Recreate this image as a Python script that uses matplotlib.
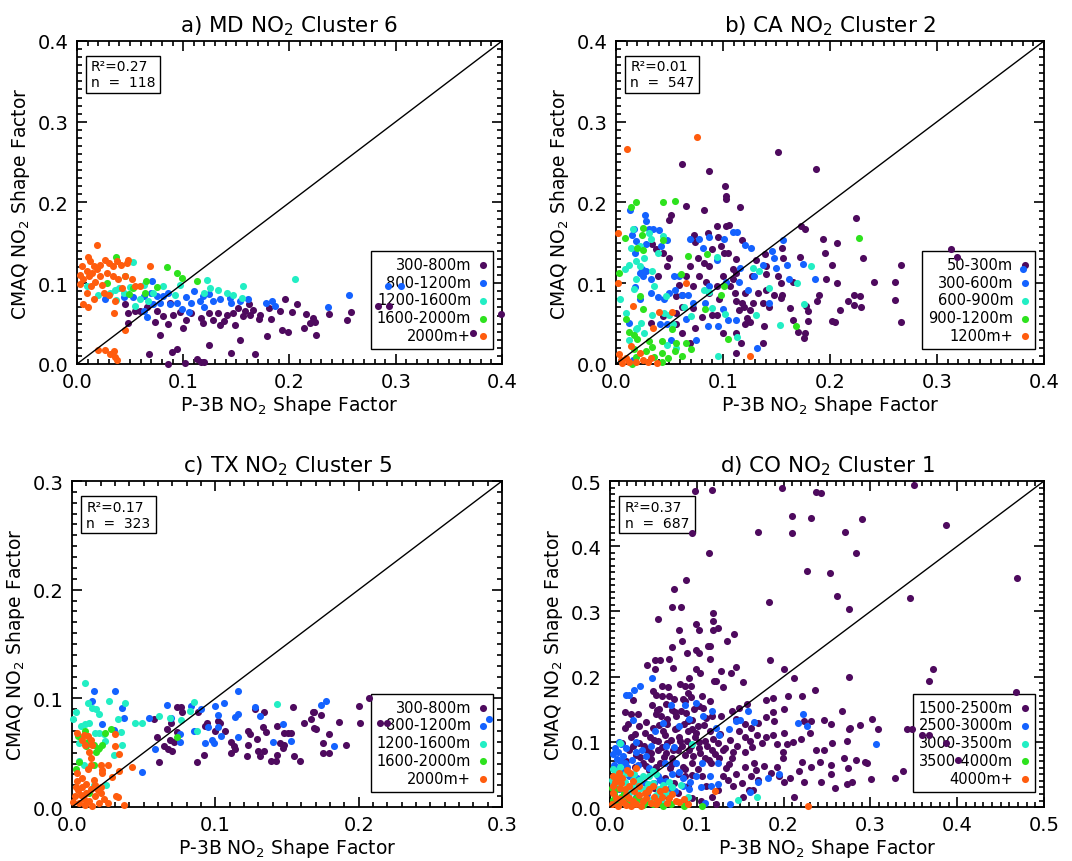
import numpy as np
import matplotlib
matplotlib.use("Agg")
import matplotlib.pyplot as plt
from matplotlib.patches import Rectangle
from matplotlib.ticker import MultipleLocator, FormatStrFormatter

plt.rcParams['font.family'] = ['DejaVu Sans']

colors = ['#4e0a5e', '#1462ff', '#22eec4', '#2ee21e', '#ff5c0e']

# ---------------- panel a: MD cluster 6 ----------------
md_labels = ['300-800m', '800-1200m', '1200-1600m', '1600-2000m', '2000m+']
md_g1_x = [0.045, 0.048, 0.048, 0.055, 0.059, 0.066, 0.073, 0.075, 0.078, 0.081, 0.086, 0.088, 0.090, 0.094, 0.089,
           0.097, 0.100, 0.103, 0.107, 0.113, 0.117, 0.119, 0.120, 0.124, 0.124, 0.128, 0.133, 0.135, 0.138, 0.141,
           0.145, 0.147, 0.149, 0.152, 0.153, 0.156, 0.158, 0.162, 0.163, 0.166, 0.168, 0.171, 0.172, 0.179, 0.181,
           0.183, 0.191, 0.193, 0.196, 0.199, 0.202, 0.207, 0.214, 0.216, 0.219, 0.222, 0.224, 0.225, 0.237, 0.254,
           0.258, 0.283, 0.294, 0.373, 0.068, 0.086, 0.102, 0.117, 0.399]
md_g1_y = [0.074, 0.063, 0.051, 0.065, 0.065, 0.071, 0.052, 0.065, 0.036, 0.059, 0.049, 0.075, 0.061, 0.019, 0.015,
           0.064, 0.045, 0.054, 0.063, 0.006, 0.057, 0.051, 0.003, 0.024, 0.063, 0.055, 0.063, 0.048, 0.053, 0.061,
           0.014, 0.063, 0.048, 0.069, 0.030, 0.059, 0.065, 0.074, 0.061, 0.067, 0.012, 0.056, 0.061, 0.035, 0.069,
           0.056, 0.066, 0.042, 0.080, 0.040, 0.064, 0.074, 0.045, 0.062, 0.051, 0.057, 0.052, 0.036, 0.062, 0.055,
           0.064, 0.072, 0.072, 0.038, 0.012, 0.000, 0.001, 0.002, 0.062]
md_g2_x = [0.071, 0.026, 0.044, 0.053, 0.063, 0.070, 0.075, 0.081, 0.086, 0.094, 0.078, 0.072, 0.088, 0.103, 0.107,
           0.110, 0.116, 0.119, 0.120, 0.124, 0.128, 0.135, 0.144, 0.145, 0.153, 0.161, 0.178, 0.184, 0.186, 0.236,
           0.256, 0.293, 0.063, 0.066, 0.099, 0.105, 0.305]
md_g2_y = [0.103, 0.081, 0.083, 0.083, 0.084, 0.088, 0.084, 0.084, 0.088, 0.076, 0.076, 0.074, 0.074, 0.083, 0.076,
           0.090, 0.078, 0.084, 0.071, 0.087, 0.078, 0.081, 0.082, 0.075, 0.078, 0.081, 0.076, 0.078, 0.072, 0.071,
           0.085, 0.096, 0.065, 0.058, 0.068, 0.064, 0.097]
md_g3_x = [0.053, 0.063, 0.072, 0.081, 0.097, 0.092, 0.122, 0.125, 0.120, 0.133, 0.141, 0.147, 0.155, 0.156, 0.205,
           0.020, 0.031, 0.036, 0.040, 0.037, 0.055, 0.059, 0.067, 0.009, 0.044, 0.050]
md_g3_y = [0.126, 0.098, 0.088, 0.097, 0.098, 0.086, 0.104, 0.094, 0.088, 0.092, 0.088, 0.086, 0.082, 0.097, 0.105,
           0.086, 0.088, 0.092, 0.094, 0.079, 0.072, 0.080, 0.078, 0.097, 0.088, 0.095]
md_g4_x = [0.037, 0.085, 0.094, 0.099, 0.113, 0.065, 0.075, 0.049, 0.064, 0.045, 0.053, 0.028]
md_g4_y = [0.133, 0.120, 0.113, 0.107, 0.103, 0.103, 0.095, 0.087, 0.088, 0.109, 0.094, 0.100]
md_g5_x = [0.019, 0.005, 0.010, 0.0125, 0.016, 0.009, 0.003, 0.006, 0.011, 0.014, 0.019, 0.022, 0.026, 0.030, 0.034,
           0.038, 0.041, 0.047, 0.048, 0.022, 0.028, 0.034, 0.039, 0.045, 0.052, 0.055, 0.059, 0.069, 0.009, 0.016,
           0.025, 0.030, 0.036, 0.006, 0.010, 0.035, 0.045, 0.020, 0.026, 0.031, 0.035, 0.036, 0.038, 0.013, 0.017,
           0.003, 0.024, 0.042]
md_g5_y = [0.147, 0.121, 0.133, 0.127, 0.121, 0.115, 0.099, 0.105, 0.109, 0.113, 0.117, 0.123, 0.129, 0.125, 0.121,
           0.127, 0.123, 0.125, 0.129, 0.109, 0.113, 0.109, 0.105, 0.109, 0.105, 0.096, 0.096, 0.121, 0.088, 0.080,
           0.088, 0.086, 0.078, 0.074, 0.071, 0.063, 0.042, 0.017, 0.017, 0.012, 0.016, 0.009, 0.005, 0.097, 0.102,
           0.110, 0.098, 0.094]

# ---------------- panel b: CA cluster 2 ----------------
ca_labels = ['50-300m', '300-600m', '600-900m', '900-1200m', '1200m+']
ca_g1_x = [0.062, 0.065, 0.087, 0.082, 0.102, 0.103, 0.103, 0.116, 0.151, 0.187, 0.224, 0.051, 0.050, 0.073, 0.086,
           0.094, 0.103, 0.106, 0.118, 0.173, 0.177, 0.193, 0.195, 0.207, 0.231, 0.202, 0.313, 0.319, 0.266, 0.241,
           0.207, 0.196, 0.261, 0.261, 0.266, 0.222, 0.228, 0.217, 0.222, 0.229, 0.209, 0.202, 0.205, 0.188, 0.190,
           0.178, 0.179, 0.179, 0.177, 0.176, 0.170, 0.165, 0.163, 0.172, 0.156, 0.155, 0.151, 0.154, 0.148, 0.155,
           0.143, 0.140, 0.140, 0.139, 0.131, 0.127, 0.133, 0.137, 0.138, 0.137, 0.128, 0.125, 0.121, 0.118, 0.115,
           0.112, 0.111, 0.107, 0.109, 0.112, 0.105, 0.101, 0.098, 0.095, 0.090, 0.087, 0.082, 0.077, 0.074, 0.069,
           0.065, 0.072, 0.059, 0.062, 0.056, 0.050, 0.048, 0.044, 0.037, 0.034, 0.039, 0.033, 0.044, 0.056, 0.062,
           0.069, 0.074, 0.087, 0.090, 0.094, 0.096, 0.100, 0.112, 0.117, 0.112, 0.120, 0.122, 0.125, 0.121, 0.165,
           0.154, 0.140, 0.112, 0.109, 0.100, 0.094, 0.084, 0.078, 0.062, 0.072, 0.080, 0.056]
ca_g1_y = [0.248, 0.196, 0.239, 0.191, 0.221, 0.208, 0.204, 0.195, 0.263, 0.241, 0.181, 0.185, 0.178, 0.160, 0.162,
           0.171, 0.171, 0.172, 0.154, 0.171, 0.167, 0.155, 0.138, 0.150, 0.131, 0.122, 0.142, 0.133, 0.122, 0.102,
           0.100, 0.105, 0.102, 0.079, 0.052, 0.085, 0.084, 0.078, 0.073, 0.071, 0.067, 0.053, 0.052, 0.078, 0.086,
           0.072, 0.065, 0.053, 0.038, 0.032, 0.040, 0.055, 0.069, 0.133, 0.131, 0.144, 0.109, 0.100, 0.086, 0.085,
           0.071, 0.111, 0.121, 0.136, 0.129, 0.109, 0.088, 0.076, 0.047, 0.026, 0.076, 0.067, 0.088, 0.076, 0.067,
           0.078, 0.088, 0.097, 0.117, 0.130, 0.138, 0.138, 0.146, 0.157, 0.143, 0.121, 0.125, 0.131, 0.151, 0.121,
           0.109, 0.097, 0.098, 0.085, 0.084, 0.131, 0.121, 0.138, 0.143, 0.148, 0.109, 0.051, 0.059, 0.049, 0.038,
           0.026, 0.045, 0.088, 0.061, 0.061, 0.081, 0.038, 0.038, 0.026, 0.014, 0.071, 0.057, 0.052, 0.049, 0.101,
           0.082, 0.092, 0.113, 0.105, 0.109, 0.096, 0.102, 0.109, 0.071, 0.069, 0.058, 0.063]
ca_g2_x = [0.013, 0.027, 0.028, 0.031, 0.035, 0.040, 0.017, 0.015, 0.019, 0.018, 0.028, 0.048, 0.042, 0.024, 0.022,
           0.025, 0.028, 0.033, 0.018, 0.022, 0.033, 0.039, 0.045, 0.050, 0.054, 0.059, 0.055, 0.062, 0.069, 0.078,
           0.087, 0.101, 0.109, 0.113, 0.121, 0.126, 0.116, 0.081, 0.094, 0.103, 0.067, 0.083, 0.072, 0.065, 0.048,
           0.041, 0.051, 0.075, 0.086, 0.095, 0.105, 0.112, 0.115, 0.123, 0.132, 0.129, 0.137, 0.146, 0.148, 0.150,
           0.156, 0.160, 0.162, 0.175, 0.186, 0.380, 0.143, 0.100, 0.087, 0.012, 0.016]
ca_g2_y = [0.191, 0.185, 0.177, 0.167, 0.167, 0.166, 0.167, 0.160, 0.152, 0.138, 0.148, 0.154, 0.146, 0.118, 0.113,
           0.109, 0.115, 0.105, 0.095, 0.081, 0.088, 0.083, 0.081, 0.088, 0.109, 0.109, 0.092, 0.086, 0.155, 0.155,
           0.157, 0.155, 0.163, 0.163, 0.147, 0.144, 0.119, 0.144, 0.129, 0.102, 0.086, 0.075, 0.076, 0.056, 0.049,
           0.049, 0.030, 0.030, 0.047, 0.047, 0.054, 0.054, 0.102, 0.092, 0.020, 0.109, 0.123, 0.140, 0.131, 0.119,
           0.153, 0.123, 0.105, 0.124, 0.105, 0.118, 0.076, 0.068, 0.096, 0.051, 0.005]
ca_g3_x = [0.004, 0.008, 0.012, 0.016, 0.014, 0.019, 0.022, 0.026, 0.022, 0.031, 0.033, 0.034, 0.039, 0.044, 0.036,
           0.019, 0.009, 0.017, 0.023, 0.020, 0.026, 0.034, 0.045, 0.047, 0.050, 0.053, 0.056, 0.064, 0.070, 0.082,
           0.087, 0.094, 0.090, 0.102, 0.095, 0.128, 0.134, 0.131, 0.143, 0.153, 0.169, 0.182, 0.176, 0.113, 0.048,
           0.012, 0.019]
ca_g3_y = [0.080, 0.118, 0.123, 0.167, 0.144, 0.127, 0.146, 0.131, 0.121, 0.162, 0.155, 0.115, 0.138, 0.159, 0.097,
           0.105, 0.063, 0.093, 0.051, 0.045, 0.038, 0.061, 0.063, 0.084, 0.061, 0.049, 0.020, 0.071, 0.059, 0.092,
           0.089, 0.133, 0.069, 0.062, 0.010, 0.119, 0.115, 0.061, 0.094, 0.048, 0.100, 0.121, 0.074, 0.034, 0.024,
           0.030, 0.043]
ca_g4_x = [0.014, 0.019, 0.044, 0.055, 0.008, 0.003, 0.025, 0.024, 0.020, 0.025, 0.044, 0.067, 0.061, 0.009, 0.022,
           0.025, 0.012, 0.017, 0.020, 0.031, 0.043, 0.052, 0.056, 0.065, 0.034, 0.028, 0.017, 0.043, 0.055, 0.062,
           0.070, 0.019, 0.036, 0.049, 0.043, 0.085, 0.098, 0.101, 0.083, 0.105, 0.168, 0.227, 0.015]
ca_g4_y = [0.195, 0.200, 0.201, 0.202, 0.156, 0.113, 0.169, 0.160, 0.144, 0.141, 0.154, 0.134, 0.112, 0.056, 0.084,
           0.068, 0.040, 0.036, 0.031, 0.028, 0.029, 0.043, 0.026, 0.026, 0.021, 0.016, 0.018, 0.014, 0.016, 0.010,
           0.019, 0.009, 0.009, 0.008, 0.002, 0.136, 0.085, 0.096, 0.068, 0.031, 0.047, 0.156, 0.000]
ca_g5_x = [0.002, 0.010, 0.076, 0.002, 0.016, 0.040, 0.052, 0.065, 0.035, 0.125, 0.014, 0.003, 0.005, 0.009, 0.012,
           0.019, 0.025, 0.030, 0.033, 0.038, 0.022, 0.006]
ca_g5_y = [0.162, 0.266, 0.281, 0.100, 0.072, 0.064, 0.064, 0.100, 0.045, 0.010, 0.022, 0.012, 0.005, 0.007, 0.002,
           0.003, 0.005, 0.002, 0.007, 0.001, 0.014, 0.001]

# ---------------- panel c: TX cluster 5 ----------------
tx_labels = ['300-800m', '800-1200m', '1200-1600m', '1600-2000m', '2000m+']
tx_g1_x = [0.057, 0.059, 0.061, 0.064, 0.066, 0.067, 0.068, 0.070, 0.069, 0.071, 0.073, 0.073, 0.076, 0.077, 0.087,
           0.088, 0.092, 0.093, 0.094, 0.100, 0.102, 0.103, 0.107, 0.111, 0.111, 0.113, 0.114, 0.122, 0.123, 0.123,
           0.124, 0.128, 0.129, 0.130, 0.131, 0.133, 0.134, 0.134, 0.135, 0.139, 0.142, 0.143, 0.143, 0.145, 0.147,
           0.148, 0.148, 0.151, 0.153, 0.154, 0.155, 0.159, 0.162, 0.167, 0.168, 0.169, 0.169, 0.170, 0.174, 0.175,
           0.175, 0.179, 0.179, 0.186, 0.191, 0.200, 0.201, 0.207, 0.215, 0.220]
tx_g1_y = [0.081, 0.064, 0.041, 0.056, 0.072, 0.053, 0.062, 0.052, 0.077, 0.060, 0.092, 0.069, 0.092, 0.087, 0.041,
           0.087, 0.048, 0.075, 0.077, 0.070, 0.079, 0.077, 0.070, 0.060, 0.050, 0.056, 0.053, 0.047, 0.070, 0.057,
           0.067, 0.090, 0.063, 0.052, 0.047, 0.074, 0.087, 0.052, 0.069, 0.042, 0.042, 0.075, 0.048, 0.059, 0.054,
           0.068, 0.057, 0.068, 0.068, 0.092, 0.047, 0.042, 0.077, 0.081, 0.087, 0.087, 0.073, 0.072, 0.085, 0.059,
           0.050, 0.050, 0.067, 0.078, 0.057, 0.093, 0.077, 0.100, 0.077, 0.077]
tx_g2_x = [0.015, 0.014, 0.030, 0.035, 0.036, 0.021, 0.029, 0.049, 0.054, 0.058, 0.066, 0.069, 0.075, 0.075, 0.083,
           0.090, 0.085, 0.093, 0.095, 0.098, 0.099, 0.100, 0.102, 0.102, 0.104, 0.106, 0.114, 0.116, 0.116, 0.116,
           0.128, 0.131, 0.140, 0.147, 0.153, 0.174, 0.177, 0.183, 0.291]
tx_g2_y = [0.107, 0.098, 0.107, 0.091, 0.082, 0.076, 0.071, 0.032, 0.082, 0.053, 0.094, 0.082, 0.060, 0.067, 0.093,
           0.090, 0.070, 0.059, 0.074, 0.062, 0.059, 0.093, 0.085, 0.074, 0.065, 0.096, 0.083, 0.086, 0.107, 0.064,
           0.092, 0.084, 0.060, 0.076, 0.061, 0.094, 0.098, 0.056, 0.081]
tx_g3_x = [0.001, 0.003, 0.009, 0.011, 0.014, 0.017, 0.019, 0.026, 0.006, 0.009, 0.012, 0.016, 0.019, 0.022, 0.023,
           0.005, 0.005, 0.008, 0.032, 0.034, 0.035, 0.037, 0.029, 0.044, 0.049, 0.061, 0.068, 0.076, 0.085, 0.087,
           0.082, 0.143, 0.024, 0.015]
tx_g3_y = [0.081, 0.087, 0.114, 0.096, 0.091, 0.090, 0.086, 0.098, 0.075, 0.076, 0.077, 0.068, 0.068, 0.067, 0.061,
           0.059, 0.042, 0.039, 0.081, 0.069, 0.057, 0.096, 0.048, 0.077, 0.077, 0.084, 0.082, 0.080, 0.097, 0.070,
           0.088, 0.095, 0.020, 0.020]
tx_g4_x = [0.003, 0.005, 0.004, 0.009, 0.011, 0.010, 0.015, 0.017, 0.018, 0.019, 0.021, 0.023, 0.027, 0.015, 0.073,
           0.012]
tx_g4_y = [0.035, 0.041, 0.065, 0.070, 0.060, 0.056, 0.057, 0.051, 0.053, 0.054, 0.057, 0.068, 0.072, 0.039, 0.064,
           0.013]
tx_g5_x = [0.0035, 0.008, 0.011, 0.007, 0.013, 0.009, 0.014, 0.012, 0.013, 0.013, 0.020, 0.011, 0.007, 0.0035, 0.003,
           0.004, 0.010, 0.013, 0.016, 0.018, 0.020, 0.021, 0.021, 0.025, 0.030, 0.030, 0.033, 0.033, 0.028, 0.042,
           0.022, 0.025, 0.031, 0.032, 0.036, 0.006, 0.002, 0.001, 0.005, 0.008, 0.009, 0.012, 0.014, 0.016, 0.019,
           0.020, 0.007, 0.015, 0.010, 0.0035]
tx_g5_y = [0.068, 0.066, 0.065, 0.062, 0.062, 0.057, 0.057, 0.051, 0.045, 0.039, 0.039, 0.035, 0.027, 0.024, 0.018,
           0.016, 0.021, 0.017, 0.020, 0.016, 0.018, 0.034, 0.031, 0.039, 0.067, 0.056, 0.049, 0.033, 0.028, 0.037,
           0.007, 0.004, 0.010, 0.009, 0.002, 0.011, 0.010, 0.005, 0.004, 0.007, 0.002, 0.006, 0.001, 0.010, 0.004,
           0.013, 0.018, 0.025, 0.013, 0.031]

# ---------------- panel d: CO cluster 1 ----------------
co_labels = ['1500-2500m', '2500-3000m', '3000-3500m', '3500-4000m', '4000m+']
co_g1_x = [0.098, 0.118, 0.095, 0.198, 0.237, 0.243, 0.350, 0.210, 0.232, 0.290, 0.170, 0.210, 0.271, 0.387, 0.114,
           0.283, 0.227, 0.253, 0.469, 0.088, 0.074, 0.183, 0.262, 0.346, 0.275, 0.055, 0.071, 0.082, 0.119, 0.119,
           0.099, 0.103, 0.124, 0.119, 0.080, 0.143, 0.135, 0.083, 0.071, 0.113, 0.115, 0.099, 0.102, 0.089, 0.068,
           0.115, 0.184, 0.043, 0.052, 0.058, 0.052, 0.073, 0.099, 0.104, 0.128, 0.145, 0.139, 0.200, 0.372, 0.367,
           0.275, 0.468, 0.236, 0.212, 0.091, 0.122, 0.120, 0.130, 0.153, 0.060, 0.067, 0.081, 0.086, 0.093, 0.049,
           0.053, 0.060, 0.068, 0.074, 0.090, 0.093, 0.084, 0.106, 0.115, 0.102, 0.158, 0.149, 0.180, 0.188, 0.205,
           0.221, 0.200, 0.180, 0.188, 0.267, 0.017, 0.026, 0.032, 0.024, 0.048, 0.054, 0.053, 0.059, 0.072, 0.066,
           0.082, 0.076, 0.088, 0.097, 0.090, 0.095, 0.101, 0.111, 0.118, 0.128, 0.141, 0.145, 0.155, 0.163, 0.170,
           0.189, 0.223, 0.232, 0.246, 0.255, 0.275, 0.288, 0.302, 0.309, 0.342, 0.348, 0.360, 0.367, 0.387, 0.401,
           0.337, 0.328, 0.301, 0.279, 0.273, 0.259, 0.255, 0.243, 0.242, 0.232, 0.224, 0.218, 0.221, 0.212, 0.207,
           0.201, 0.195, 0.192, 0.186, 0.178, 0.171, 0.166, 0.168, 0.163, 0.160, 0.152, 0.155, 0.145, 0.142, 0.136,
           0.124, 0.118, 0.122, 0.111, 0.105, 0.095, 0.090, 0.274, 0.283, 0.294, 0.296, 0.270, 0.255, 0.246, 0.237,
           0.256, 0.273, 0.276, 0.230, 0.220, 0.211, 0.201, 0.204, 0.199, 0.199, 0.192, 0.188, 0.180, 0.175, 0.169,
           0.164, 0.161, 0.155, 0.155, 0.149, 0.146, 0.141, 0.138, 0.134, 0.130, 0.126, 0.124, 0.118, 0.116, 0.115,
           0.109, 0.109, 0.106, 0.103, 0.098, 0.095, 0.093, 0.090, 0.086, 0.084, 0.081, 0.078, 0.075, 0.072, 0.069,
           0.066, 0.065, 0.061, 0.058, 0.055, 0.051, 0.047, 0.045, 0.043, 0.040, 0.038, 0.034, 0.030, 0.029, 0.024,
           0.022, 0.018, 0.017, 0.014, 0.074, 0.063, 0.078, 0.066, 0.051, 0.087, 0.088, 0.153, 0.165, 0.130,
           0.021, 0.029, 0.033, 0.039, 0.042, 0.046, 0.049, 0.055, 0.057, 0.060, 0.063, 0.066, 0.070, 0.073, 0.077,
           0.079, 0.083, 0.085, 0.089, 0.091, 0.094, 0.096, 0.099, 0.102, 0.104, 0.108, 0.112, 0.114, 0.119, 0.121,
           0.127, 0.133, 0.137, 0.142, 0.047, 0.053, 0.062, 0.071, 0.078, 0.086, 0.094, 0.101, 0.035, 0.041, 0.027,
           0.056, 0.065, 0.075, 0.087, 0.107]
co_g1_y = [0.484, 0.486, 0.421, 0.490, 0.483, 0.482, 0.494, 0.446, 0.444, 0.442, 0.422, 0.420, 0.422, 0.432, 0.389,
           0.390, 0.362, 0.359, 0.352, 0.348, 0.334, 0.315, 0.324, 0.321, 0.303, 0.288, 0.307, 0.307, 0.298, 0.286,
           0.280, 0.272, 0.274, 0.271, 0.271, 0.266, 0.254, 0.254, 0.246, 0.247, 0.247, 0.241, 0.237, 0.236, 0.227,
           0.227, 0.226, 0.218, 0.225, 0.225, 0.211, 0.213, 0.212, 0.206, 0.209, 0.215, 0.205, 0.212, 0.211, 0.194,
           0.199, 0.176, 0.179, 0.198, 0.198, 0.194, 0.193, 0.184, 0.192, 0.186, 0.184, 0.189, 0.186, 0.185, 0.178,
           0.172, 0.171, 0.171, 0.165, 0.175, 0.168, 0.166, 0.171, 0.162, 0.155, 0.158, 0.152, 0.164, 0.167, 0.171,
           0.171, 0.150, 0.138, 0.145, 0.147, 0.145, 0.164, 0.142, 0.142, 0.156, 0.149, 0.142, 0.140, 0.149, 0.127,
           0.148, 0.139, 0.144, 0.150, 0.132, 0.134, 0.125, 0.137, 0.140, 0.139, 0.147, 0.135, 0.127, 0.121, 0.129,
           0.132, 0.132, 0.132, 0.133, 0.127, 0.120, 0.126, 0.135, 0.120, 0.120, 0.119, 0.110, 0.110, 0.098, 0.072,
           0.055, 0.045, 0.043, 0.039, 0.036, 0.029, 0.050, 0.038, 0.069, 0.061, 0.039, 0.055, 0.069, 0.015, 0.045,
           0.039, 0.047, 0.061, 0.052, 0.063, 0.042, 0.068, 0.057, 0.047, 0.026, 0.037, 0.062, 0.050, 0.032, 0.042,
           0.026, 0.016, 0.004, 0.032, 0.010, 0.014, 0.033, 0.060, 0.072, 0.069, 0.068, 0.075, 0.065, 0.087, 0.088,
           0.098, 0.102, 0.121, 0.114, 0.104, 0.099, 0.113, 0.097, 0.085, 0.075, 0.096, 0.110, 0.107, 0.098, 0.111,
           0.092, 0.101, 0.085, 0.108, 0.116, 0.094, 0.075, 0.103, 0.060, 0.087, 0.075, 0.098, 0.088, 0.068, 0.116,
           0.101, 0.075, 0.047, 0.091, 0.108, 0.068, 0.093, 0.116, 0.080, 0.062, 0.101, 0.088, 0.119, 0.075, 0.060,
           0.098, 0.083, 0.116, 0.068, 0.088, 0.103, 0.073, 0.057, 0.088, 0.114, 0.068, 0.098, 0.080, 0.061, 0.108,
           0.088, 0.070, 0.121, 0.098, 0.037, 0.045, 0.021, 0.017, 0.029, 0.047, 0.010, 0.015, 0.026, 0.047,
           0.128, 0.112, 0.125, 0.094, 0.131, 0.108, 0.121, 0.101, 0.126, 0.092, 0.110, 0.135, 0.103, 0.088, 0.121,
           0.108, 0.094, 0.128, 0.101, 0.087, 0.120, 0.078, 0.113, 0.099, 0.083, 0.126, 0.093, 0.072, 0.104, 0.081,
           0.112, 0.091, 0.066, 0.085, 0.083, 0.061, 0.077, 0.066, 0.051, 0.058, 0.049, 0.058, 0.076, 0.063, 0.094,
           0.151, 0.158, 0.146, 0.163, 0.152]
co_g2_x = [0.048, 0.035, 0.028, 0.018, 0.022, 0.027, 0.013, 0.009, 0.011, 0.007, 0.017, 0.030, 0.037, 0.030, 0.047,
           0.052, 0.061, 0.064, 0.070, 0.074, 0.079, 0.087, 0.091, 0.099, 0.107, 0.106, 0.118, 0.122, 0.126, 0.125,
           0.137, 0.145, 0.150, 0.159, 0.166, 0.195, 0.170, 0.182, 0.222, 0.217, 0.227, 0.307, 0.161, 0.138, 0.109,
           0.116, 0.115, 0.099, 0.084, 0.072, 0.058, 0.051, 0.040, 0.031, 0.022, 0.013, 0.007, 0.004, 0.063, 0.076,
           0.084, 0.091, 0.068, 0.057, 0.043, 0.030, 0.010,
           0.004, 0.006, 0.008, 0.010, 0.012, 0.005, 0.015, 0.020, 0.025, 0.019, 0.032, 0.041, 0.045, 0.055, 0.065,
           0.080, 0.092, 0.105, 0.125, 0.075]
co_g2_y = [0.198, 0.185, 0.180, 0.172, 0.172, 0.133, 0.096, 0.084, 0.070, 0.062, 0.068, 0.084, 0.087, 0.099, 0.093,
           0.116, 0.129, 0.093, 0.157, 0.092, 0.125, 0.156, 0.135, 0.159, 0.139, 0.068, 0.147, 0.121, 0.110, 0.068,
           0.119, 0.132, 0.134, 0.147, 0.130, 0.051, 0.038, 0.045, 0.143, 0.129, 0.124, 0.097, 0.023, 0.004, 0.006,
           0.032, 0.047, 0.047, 0.045, 0.051, 0.042, 0.037, 0.037, 0.045, 0.047, 0.055, 0.048, 0.037, 0.068, 0.068,
           0.033, 0.027, 0.027, 0.016, 0.020, 0.016, 0.027,
           0.082, 0.090, 0.074, 0.100, 0.058, 0.065, 0.079, 0.061, 0.072, 0.090, 0.064, 0.078, 0.060, 0.047, 0.040,
           0.054, 0.038, 0.030, 0.035, 0.025]
co_g3_x = [0.011, 0.095, 0.006, 0.003, 0.009, 0.007, 0.017, 0.026, 0.030, 0.038, 0.045, 0.049, 0.053, 0.049, 0.061,
           0.068, 0.082, 0.053, 0.045, 0.060, 0.148, 0.169, 0.034, 0.022,
           0.002, 0.004, 0.010, 0.014, 0.019, 0.024, 0.028, 0.033, 0.040, 0.044, 0.056, 0.065, 0.072, 0.090, 0.012]
co_g3_y = [0.098, 0.097, 0.055, 0.058, 0.052, 0.045, 0.039, 0.042, 0.037, 0.047, 0.047, 0.055, 0.050, 0.037, 0.034,
           0.039, 0.034, 0.019, 0.011, 0.007, 0.011, 0.016, 0.027, 0.021,
           0.042, 0.034, 0.031, 0.046, 0.052, 0.030, 0.050, 0.041, 0.027, 0.036, 0.028, 0.022, 0.030, 0.016, 0.062]
co_g4_x = [0.002, 0.007, 0.013, 0.018, 0.026, 0.034, 0.042, 0.049, 0.061, 0.085, 0.106, 0.003,
           0.005, 0.010, 0.016, 0.021, 0.030, 0.038, 0.055, 0.070]
co_g4_y = [0.029, 0.027, 0.016, 0.010, 0.006, 0.012, 0.007, 0.004, 0.002, 0.002, 0.001, 0.011,
           0.020, 0.006, 0.022, 0.004, 0.014, 0.003, 0.006, 0.004]
co_g5_x = [0.004, 0.008, 0.013, 0.020, 0.023, 0.030, 0.011, 0.017, 0.022, 0.028, 0.034, 0.040, 0.045, 0.051, 0.058,
           0.063, 0.068, 0.076, 0.080, 0.003, 0.007, 0.015, 0.022, 0.030, 0.038, 0.047, 0.055, 0.002, 0.009, 0.121,
           0.228, 0.024,
           0.003, 0.006, 0.010, 0.014, 0.018, 0.026, 0.033, 0.041, 0.049, 0.053, 0.060, 0.066, 0.072, 0.085, 0.090,
           0.012, 0.027, 0.036, 0.044, 0.018]
co_g5_y = [0.047, 0.045, 0.037, 0.057, 0.052, 0.060, 0.029, 0.027, 0.032, 0.024, 0.032, 0.021, 0.027, 0.016, 0.024,
           0.028, 0.014, 0.010, 0.007, 0.021, 0.014, 0.007, 0.014, 0.004, 0.010, 0.006, 0.010, 0.004, 0.002, 0.024,
           0.001, 0.001,
           0.032, 0.038, 0.052, 0.044, 0.019, 0.040, 0.018, 0.014, 0.033, 0.004, 0.016, 0.006, 0.020, 0.012, 0.005,
           0.012, 0.010, 0.002, 0.024, 0.003]

panels = [
    dict(title='a) MD NO$_2$ Cluster 6', lim=0.4, labels=md_labels, stats='R²=0.27\nn  =  118',
         xs=[md_g1_x, md_g2_x, md_g3_x, md_g4_x, md_g5_x], ys=[md_g1_y, md_g2_y, md_g3_y, md_g4_y, md_g5_y],
         pos=[0.0718, 0.5766, 0.3965, 0.3747]),
    dict(title='b) CA NO$_2$ Cluster 2', lim=0.4, labels=ca_labels, stats='R²=0.01\nn  =  547',
         xs=[ca_g1_x, ca_g2_x, ca_g3_x, ca_g4_x, ca_g5_x], ys=[ca_g1_y, ca_g2_y, ca_g3_y, ca_g4_y, ca_g5_y],
         pos=[0.5746, 0.5766, 0.3993, 0.3747]),
    dict(title='c) TX NO$_2$ Cluster 5', lim=0.3, labels=tx_labels, stats='R²=0.17\nn  =  323',
         xs=[tx_g1_x, tx_g2_x, tx_g3_x, tx_g4_x, tx_g5_x], ys=[tx_g1_y, tx_g2_y, tx_g3_y, tx_g4_y, tx_g5_y],
         pos=[0.0672, 0.0626, 0.4011, 0.3782]),
    dict(title='d) CO NO$_2$ Cluster 1', lim=0.5, labels=co_labels, stats='R²=0.37\nn  =  687',
         xs=[co_g1_x, co_g2_x, co_g3_x, co_g4_x, co_g5_x], ys=[co_g1_y, co_g2_y, co_g3_y, co_g4_y, co_g5_y],
         pos=[0.5690, 0.0626, 0.4049, 0.3782]),
]

fig = plt.figure(figsize=(10.72, 8.62), dpi=100)

for p in panels:
    ax = fig.add_axes(p['pos'])
    lim = p['lim']
    for i in range(5):
        ax.scatter(p['xs'][i], p['ys'][i], s=26, color=colors[i], linewidths=0,
                   label=p['labels'][i], zorder=3, clip_on=False)
    ax.plot([0, lim], [0, lim], color='black', lw=1.0, zorder=4)
    ax.set_xlim(0, lim)
    ax.set_ylim(0, lim)

    ax.xaxis.set_major_locator(MultipleLocator(0.1))
    ax.yaxis.set_major_locator(MultipleLocator(0.1))
    ax.xaxis.set_minor_locator(MultipleLocator(0.01))
    ax.yaxis.set_minor_locator(MultipleLocator(0.01))
    ax.xaxis.set_major_formatter(FormatStrFormatter('%.1f'))
    ax.yaxis.set_major_formatter(FormatStrFormatter('%.1f'))
    ax.tick_params(which='both', direction='in', top=True, right=True, width=1.2)
    ax.tick_params(which='major', length=7, labelsize=14, pad=6)
    ax.tick_params(which='minor', length=3.5)
    for sp in ax.spines.values():
        sp.set_linewidth(1.3)

    ax.set_title(p['title'], fontsize=15.5, pad=7)
    ax.set_xlabel('P-3B NO$_2$ Shape Factor', fontsize=13.5, labelpad=1)
    ax.set_ylabel('CMAQ NO$_2$ Shape Factor', fontsize=13.5, labelpad=4)

    # stats box
    ax.add_patch(Rectangle((0.021, 0.84), 0.174, 0.115, transform=ax.transAxes,
                           facecolor='white', edgecolor='black', lw=1.0, zorder=2))
    ax.text(0.108, 0.897, p['stats'], transform=ax.transAxes, ha='center', va='center',
            multialignment='left', fontsize=10, linespacing=1.2, zorder=2.5)

    leg = ax.legend(loc='lower right', bbox_to_anchor=(0.979, 0.046), borderaxespad=0,
                    markerfirst=False, fontsize=10.5, frameon=True, fancybox=False,
                    edgecolor='black', framealpha=1, handlelength=0.6, handletextpad=0.5,
                    labelspacing=0.2, borderpad=0.4, scatterpoints=1, markerscale=1.0)
    leg.get_frame().set_linewidth(1.0)
    leg.set_zorder(2)

fig.savefig('out.png', dpi=100)
